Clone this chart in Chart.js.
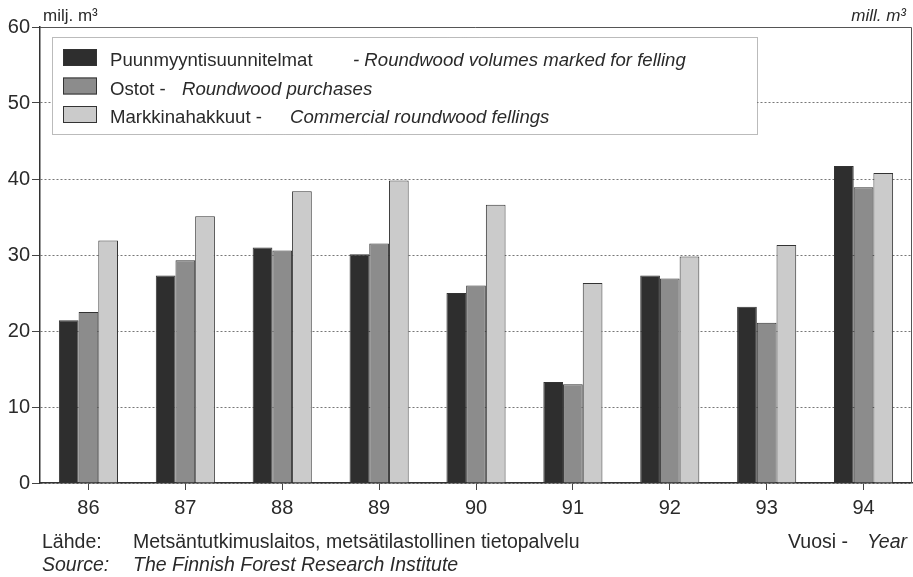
<!DOCTYPE html>
<html>
<head>
<meta charset="utf-8">
<script src="https://cdn.jsdelivr.net/npm/chart.js@4/dist/chart.umd.min.js"></script>
<style>
  html, body { margin: 0; padding: 0; background: #fff; }
  #wrap { width: 913px; height: 577px; }
</style>
</head>
<body>
<div id="wrap"><canvas id="chart" width="913" height="577"></canvas></div>
<script>
const years = ["86", "87", "88", "89", "90", "91", "92", "93", "94"];
const markedForFelling = [21.4, 27.3, 31.0, 30.1, 25.0, 13.3, 27.3, 23.2, 41.7];
const purchases = [22.5, 29.3, 30.6, 31.5, 26.0, 13.0, 26.9, 21.1, 38.9];
const commercialFellings = [31.9, 35.1, 38.4, 39.8, 36.6, 26.3, 29.8, 31.3, 40.8];

const seriesFi = ["Puunmyyntisuunnitelmat", "Ostot -", "Markkinahakkuut -"];
const seriesEn = ["- Roundwood volumes marked for felling", "Roundwood purchases", "Commercial roundwood fellings"];
const seriesColors = ["#2e2e2e", "#8c8c8c", "#cbcbcb"];

const FONT = "'Liberation Sans', Arial, Helvetica, sans-serif";
const TEXT = "#2a2a2a";

// legend box, unit labels and source notes
const decorations = {
  id: "decorations",
  afterDraw(chart) {
    const ctx = chart.ctx;
    const area = chart.chartArea;
    ctx.save();

    // frame: top and right
    ctx.strokeStyle = "#555";
    ctx.lineWidth = 1;
    ctx.setLineDash([]);
    ctx.beginPath();
    ctx.moveTo(area.left, area.top + 0.5);
    ctx.lineTo(area.right - 0.5, area.top + 0.5);
    ctx.lineTo(area.right - 0.5, area.bottom);
    ctx.stroke();

    // legend box
    ctx.fillStyle = "#fff";
    ctx.fillRect(52, 37, 705, 97);
    ctx.strokeStyle = "#777";
    ctx.setLineDash([1, 1]);
    ctx.strokeRect(52.5, 37.5, 705, 97);
    ctx.setLineDash([]);

    const rows = [66, 94.5, 123];
    const enX = [353, 182, 290];
    chart.data.datasets.forEach((ds, i) => {
      const top = rows[i] - 17;
      ctx.fillStyle = ds.backgroundColor;
      ctx.fillRect(63, top, 34, 17);
      ctx.strokeStyle = "#333";
      ctx.lineWidth = 1;
      ctx.strokeRect(63.5, top + 0.5, 33, 16);

      ctx.fillStyle = TEXT;
      ctx.textBaseline = "alphabetic";
      ctx.textAlign = "left";
      ctx.font = "18.6px " + FONT;
      ctx.fillText(seriesFi[i], 110, rows[i]);
      ctx.font = "italic 18.6px " + FONT;
      ctx.fillText(seriesEn[i], enX[i], rows[i]);
    });

    // unit labels
    ctx.fillStyle = TEXT;
    ctx.font = "17px " + FONT;
    ctx.textAlign = "left";
    ctx.fillText("milj. m³", 43, 21);
    ctx.font = "italic 17px " + FONT;
    ctx.textAlign = "right";
    ctx.fillText("mill. m³", 906, 21);

    // source notes
    ctx.textAlign = "left";
    ctx.font = "19.5px " + FONT;
    ctx.fillText("Lähde:", 42, 548);
    ctx.fillText("Metsäntutkimuslaitos, metsätilastollinen tietopalvelu", 133, 548);
    ctx.fillText("Vuosi -", 788, 548);
    ctx.font = "italic 19.5px " + FONT;
    ctx.textAlign = "right";
    ctx.fillText("Year", 907, 548);
    ctx.textAlign = "left";
    ctx.fillText("Source:", 42, 571);
    ctx.fillText("The Finnish Forest Research Institute", 133, 571);

    ctx.restore();
  }
};

const ds = (label, data, color) => ({
  label: label,
  data: data,
  backgroundColor: color,
  borderColor: "#333",
  borderWidth: 1,
  categoryPercentage: 0.61,
  barPercentage: 1.0
});

new Chart(document.getElementById("chart").getContext("2d"), {
  type: "bar",
  data: {
    labels: years,
    datasets: [
      ds(seriesFi[0], markedForFelling, seriesColors[0]),
      ds(seriesFi[1], purchases, seriesColors[1]),
      ds(seriesFi[2], commercialFellings, seriesColors[2])
    ]
  },
  options: {
    responsive: false,
    animation: false,
    layout: { padding: { top: 27, right: 1, bottom: 50, left: 0 } },
    plugins: {
      legend: { display: false },
      tooltip: { enabled: false }
    },
    scales: {
      x: {
        grid: {
          display: true,
          drawOnChartArea: false,
          offset: false,
          drawTicks: true,
          tickLength: 7,
          tickColor: "#444",
          tickWidth: 1
        },
        border: { display: true, color: "#333", width: 1.5 },
        ticks: {
          color: TEXT,
          font: { family: FONT, size: 20 },
          padding: 6,
          maxRotation: 0
        },
        afterFit(scale) { scale.height = 44; }
      },
      y: {
        min: 0,
        max: 60,
        grid: {
          color: "#777",
          lineWidth: 1,
          drawTicks: true,
          tickLength: 8,
          tickColor: "#444",
          tickBorderDash: []
        },
        border: { display: true, color: "#333", width: 1.5, dash: [2, 2] },
        ticks: {
          stepSize: 10,
          color: TEXT,
          font: { family: FONT, size: 20 },
          padding: 2
        },
        afterFit(scale) { scale.width = 40; }
      }
    }
  },
  plugins: [decorations]
});
</script>
</body>
</html>
